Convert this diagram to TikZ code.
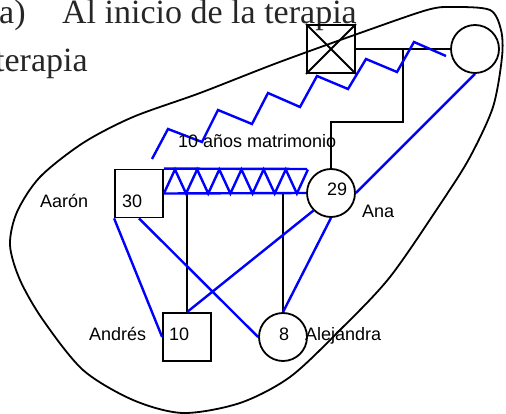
\documentclass[tikz,border=0pt]{standalone}
\usepackage{fontspec}
\setmainfont{Liberation Serif}
\setsansfont{Liberation Sans}
\usetikzlibrary{positioning}
\usetikzlibrary{calc}

\begin{document}
\begin{tikzpicture}[x=1pt,y=-1pt,
  male/.style={draw,line width=1.8pt,rectangle,minimum size=48pt,inner sep=0pt},
  female/.style={draw,line width=1.8pt,circle,minimum size=48pt,inner sep=0pt},
  tag/.style={inner sep=0pt,anchor=base west,font=\sffamily\fontsize{18}{20}\selectfont},
  title/.style={inner sep=0pt,anchor=base west,font=\fontsize{34}{40}\selectfont,text=black!85},
  kin/.style={line width=1.8pt},
  bond/.style={line width=2.4pt,blue}]
\useasboundingbox (0,0) rectangle (506,414);
% titulo
\node[title] (ta) at (-1,24) {a)};
\node[title] (tb) at (62,24) {Al inicio de la terapia};
\node[title] (tc) at (-5,72) {terapia};
% contorno
\draw[kin] plot[smooth cycle] coordinates {(453,7) (490,10) (501,30) (502,57) (493,107) (470,157) (443,200) (390,277) (340,330) (290,377) (240,403) (183,413) (133,400) (83,370) (43,320) (20,280) (10,245) (17,212) (40,177) (83,143) (133,117) (200,93) (277,63) (360,33) (427,10)};
% personas
\node[male] (dec) at (331,49) {};
\draw[kin] (dec.north west) -- (dec.south east) (dec.north east) -- (dec.south west);
\node[female] (wife) at (475,49) {};
\node[female] (ana) at (331,193) {};
\node[male] (aaron) at (139,193.5) {};
\node[male] (andres) at (187,337) {};
\node[female] (ale) at (283,337) {};
% lineas familiares
\draw[kin] (dec.east) -- (wife.west);
\coordinate (fork) at ($(dec.east)!0.5!(wife.west)$);
\draw[kin] (fork) -- ++(0,73) -| (ana.north);
\draw[kin] (andres.north |- aaron.east) -- (andres.north);
\draw[kin] (ale.north |- ana.west) -- (ale.north);
% matrimonio
\draw[bond] (aaron.north east) -- (307,169);
\draw[bond] (aaron.east) -- (ana.west);
\draw[bond] (aaron.east) \foreach \i in {1,...,6} {-- ++(11.08,-24) -- ++(11.08,24)} -- ++(11.08,-24);
% conflicto
\draw[bond] (152,159) -- (168,129) -- (202,142) -- (218,110) -- (252,124) -- (268,93) -- (300,107) -- (317,76) -- (348,89) -- (366,59) -- (397,72) -- (414,42) -- (446,56);
% alianzas
\draw[bond] (aaron.south west) -- (andres.west);
\draw[bond] (aaron.south) -- (ale.west);
\draw[bond] (andres.north) -- (ana.225);
\draw[bond] (ana.south) -- (ale.north);
\draw[bond] (ana.east) -- (wife.south);
% etiquetas
\node[tag] (years) at (178,148) {10 años matrimonio};
\node[tag] (aaronname) at (40,208) {Aarón};
\node[tag] (aaronage) at (122,208) {30};
\node[tag] (anaage) at (327,196) {29};
\node[tag] (ananame) at (362,218) {Ana};
\node[tag] (andresname) at (89,340) {Andrés};
\node[tag] (andresage) at (169,340) {10};
\node[tag] (aleage) at (279,340) {8};
\node[tag] (alename) at (305,340) {Alejandra};
\end{tikzpicture}
\end{document}
